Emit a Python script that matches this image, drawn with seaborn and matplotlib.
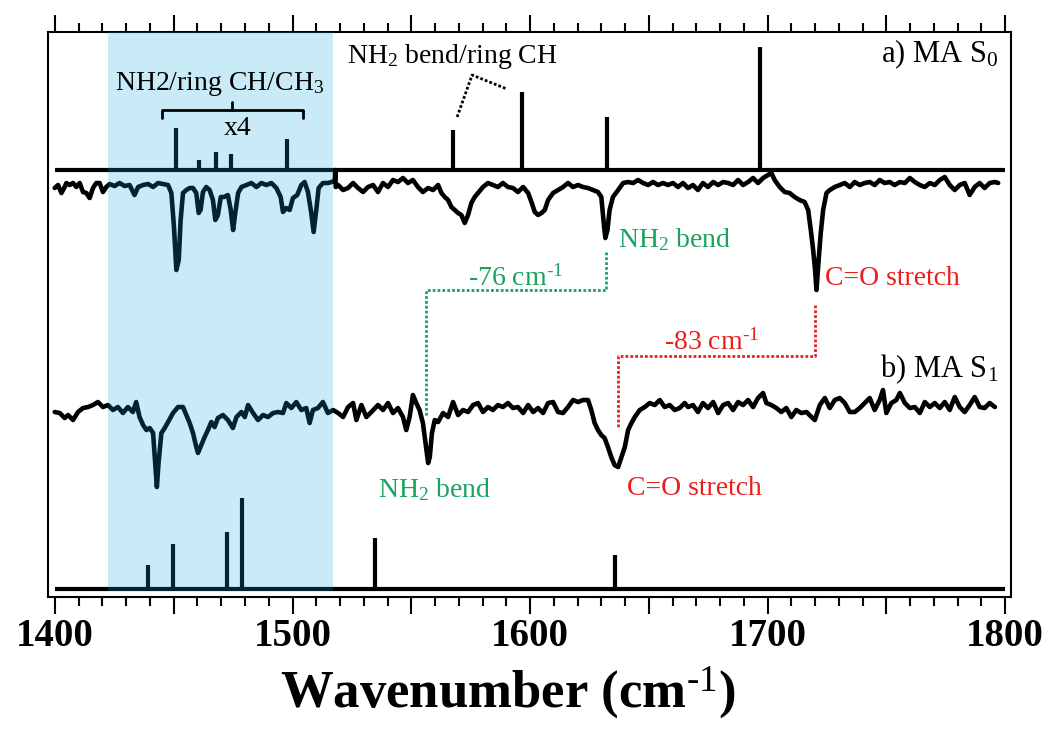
import matplotlib
matplotlib.use("Agg")
import matplotlib.pyplot as plt
import numpy as np
import pandas as pd
import seaborn as sns
from matplotlib.ticker import MultipleLocator, FuncFormatter

# ---------------- measured spectra (wavenumber / cm-1, signal / arb. units) ----------------
s0_wn = [1399.9, 1401.3, 1402.7, 1404.1, 1404.8, 1406.2, 1407.6, 1409.0, 1410.4, 1411.8,
         1413.2, 1414.6, 1416.0, 1417.4, 1418.8, 1420.2, 1421.6, 1423.0, 1425.1, 1427.2,
         1429.3, 1431.4, 1433.5, 1435.0, 1437.1, 1439.2, 1441.3, 1443.4, 1445.5, 1447.6,
         1449.0, 1450.1, 1451.1, 1452.1, 1452.9, 1453.9, 1455.3, 1456.7, 1458.1, 1459.5,
         1460.5, 1461.3, 1462.3, 1463.7, 1465.1, 1466.5, 1467.5, 1468.6, 1469.8, 1471.2,
         1472.8, 1474.0, 1475.0, 1475.9, 1477.1, 1478.5, 1480.6, 1482.7, 1484.8, 1486.9,
         1489.0, 1491.1, 1493.2, 1495.0, 1496.0, 1497.4, 1498.8, 1500.2, 1502.0, 1503.7,
         1505.1, 1506.5, 1507.9, 1508.9, 1510.0, 1511.0, 1512.8, 1515.0, 1516.4, 1517.6,
         1517.8, 1518.0, 1518.2, 1519.2, 1521.3, 1523.4, 1525.5, 1527.6, 1529.7, 1531.8,
         1533.9, 1536.0, 1538.1, 1540.2, 1542.3, 1544.4, 1546.5, 1548.6, 1550.7, 1552.8,
         1554.9, 1557.1, 1559.2, 1561.3, 1562.7, 1564.1, 1565.5, 1566.9, 1568.3, 1569.7,
         1571.1, 1572.5, 1573.9, 1575.3, 1576.7, 1578.1, 1580.2, 1582.3, 1584.4, 1586.5,
         1588.6, 1590.7, 1592.8, 1594.9, 1597.1, 1599.2, 1600.6, 1602.0, 1603.4, 1604.8,
         1606.2, 1607.6, 1609.7, 1611.8, 1613.9, 1616.0, 1618.1, 1620.2, 1622.3, 1624.4,
         1626.5, 1628.6, 1630.0, 1631.2, 1631.7, 1632.6, 1633.5, 1634.9, 1637.1, 1639.2,
         1641.3, 1643.4, 1645.5, 1647.6, 1649.7, 1651.8, 1653.9, 1656.0, 1658.1, 1660.2,
         1662.3, 1664.4, 1666.5, 1668.6, 1670.7, 1672.8, 1674.9, 1677.1, 1679.2, 1681.3,
         1683.4, 1685.5, 1687.6, 1689.7, 1691.8, 1693.9, 1696.0, 1698.1, 1700.2, 1701.6,
         1703.0, 1705.1, 1707.2, 1709.3, 1711.4, 1713.5, 1715.6, 1717.1, 1718.2, 1719.2,
         1719.9, 1720.6, 1721.5, 1722.4, 1723.4, 1724.8, 1726.2, 1728.3, 1730.4, 1732.5,
         1734.6, 1736.7, 1738.8, 1740.9, 1743.0, 1745.1, 1747.2, 1749.3, 1751.4, 1753.5,
         1755.7, 1757.8, 1759.9, 1762.0, 1764.1, 1766.2, 1768.3, 1770.4, 1772.5, 1774.6,
         1776.7, 1778.8, 1780.9, 1783.0, 1785.1, 1787.2, 1789.3, 1791.4, 1793.5, 1795.7,
         1797.1]
s0_sig = [-3, 0, -8, -2, 2, 0, 2, -2, 2, -7,
          -8, -13, -3, 2, 2, -7, -2, 1, -1, 2,
          -1, 0, -10, -2, 0, 1, -2, 2, 1, 0,
          -8, -42, -85, -75, -35, -8, -5, -3, -3, -8,
          -28, -25, -7, -2, -5, -15, -35, -30, -12, -12,
          -10, -25, -45, -28, -8, -2, 0, 2, -2, 2,
          0, 2, -3, -12, -27, -23, -25, -13, -10, 0,
          3, -7, -28, -47, -25, -3, 2, 2, 3, 4,
          5, 15, -2, 0, -5, -3, 2, -3, -7, -2,
          0, -7, 2, -2, 5, 3, 7, 2, 5, -2,
          -7, -3, -5, 0, -8, -12, -15, -22, -25, -28,
          -30, -38, -30, -18, -12, -8, -2, 2, 0, -2,
          2, -2, -3, -7, -2, -8, -17, -27, -30, -28,
          -25, -15, -8, -5, -2, 2, -2, 0, -2, -3,
          -5, -7, -12, -42, -53, -45, -25, -12, -5, 2,
          3, 2, 5, 2, 0, 3, 0, 2, 0, 2,
          -2, 2, -3, 0, -5, 2, -2, 3, 0, 3,
          2, 0, 5, 0, 3, 7, 2, 7, 10, 12,
          5, -2, -7, -8, -12, -15, -17, -25, -45, -65,
          -82, -105, -75, -48, -25, -8, -5, -2, 0, 2,
          -2, 3, 0, 2, 3, 0, 5, 2, 3, 0,
          3, 2, 7, 3, 0, -2, 2, 0, 5, 8,
          0, -5, 0, 2, -10, -2, 2, -3, 2, 3,
          2]

s1_wn = [1399.9, 1402.0, 1404.1, 1405.5, 1407.6, 1409.7, 1411.8, 1413.9, 1416.0, 1418.1,
         1420.2, 1422.3, 1424.4, 1426.5, 1428.6, 1430.7, 1432.8, 1434.2, 1435.6, 1437.1,
         1438.5, 1439.9, 1441.3, 1442.2, 1442.9, 1443.6, 1444.8, 1446.2, 1447.6, 1449.7,
         1451.8, 1453.9, 1455.3, 1456.7, 1458.1, 1459.5, 1460.2, 1461.6, 1463.0, 1464.4,
         1465.8, 1467.2, 1468.6, 1470.7, 1472.8, 1474.9, 1476.4, 1478.5, 1479.9, 1481.3,
         1483.4, 1485.5, 1487.6, 1489.7, 1491.8, 1493.9, 1496.0, 1497.4, 1499.5, 1501.6,
         1503.7, 1505.8, 1507.2, 1508.6, 1510.7, 1512.8, 1514.9, 1517.1, 1519.2, 1521.3,
         1523.4, 1525.5, 1526.9, 1529.0, 1531.1, 1533.2, 1536.0, 1538.1, 1540.2, 1542.3,
         1544.4, 1546.5, 1547.9, 1549.3, 1550.7, 1552.1, 1553.5, 1554.9, 1556.4, 1557.1,
         1557.8, 1558.7, 1559.9, 1561.3, 1563.4, 1565.5, 1567.6, 1569.7, 1571.8, 1573.9,
         1576.0, 1578.1, 1580.2, 1582.3, 1584.4, 1586.5, 1588.6, 1590.7, 1592.8, 1594.9,
         1597.1, 1599.2, 1601.3, 1603.4, 1605.5, 1607.6, 1609.7, 1611.8, 1613.9, 1616.0,
         1618.1, 1620.2, 1622.3, 1624.4, 1625.8, 1627.2, 1628.6, 1630.0, 1631.4, 1632.8,
         1634.2, 1635.6, 1637.1, 1638.5, 1639.9, 1641.3, 1642.7, 1644.1, 1646.2, 1648.3,
         1650.4, 1652.5, 1654.6, 1656.7, 1658.8, 1660.9, 1663.0, 1665.1, 1666.5, 1668.6,
         1670.7, 1672.8, 1674.9, 1677.1, 1679.2, 1681.3, 1683.4, 1685.5, 1687.6, 1689.7,
         1691.8, 1693.9, 1696.0, 1698.1, 1699.5, 1701.6, 1703.7, 1705.8, 1707.9, 1710.0,
         1712.1, 1714.2, 1716.4, 1718.5, 1719.9, 1722.0, 1724.1, 1726.2, 1728.3, 1730.4,
         1732.5, 1734.6, 1736.7, 1738.8, 1740.9, 1743.0, 1745.1, 1747.2, 1748.6, 1750.0,
         1752.1, 1754.2, 1755.7, 1757.8, 1759.9, 1762.0, 1764.1, 1766.2, 1768.3, 1770.4,
         1772.5, 1774.6, 1776.7, 1778.8, 1780.9, 1783.0, 1785.1, 1787.2, 1789.3, 1791.4,
         1793.5, 1795.7]
s1_sig = [-5, -6, -11, -8, -13, -5, -1, 0, 2, 5,
          0, 2, -3, 0, -6, 0, -5, 5, -10, -18,
          -23, -21, -26, -56, -80, -56, -26, -21, -15, -6,
          0, 0, -8, -16, -26, -40, -46, -38, -30, -23,
          -15, -20, -11, -8, -13, -21, -10, -5, -10, 2,
          -6, -13, -8, -10, -6, -5, -6, 4, -1, 5,
          -3, -1, -16, -3, -1, 5, -6, -3, -6, -10,
          0, 4, -13, 2, -10, -5, 2, -3, 4, -6,
          -1, -10, -23, -10, 12, 4, -3, -16, -43, -56,
          -50, -26, -13, -15, -6, -10, 5, -8, -3, -5,
          2, 4, -5, 0, -3, 2, 0, 4, -1, 0,
          -6, 2, -5, -1, -6, 4, 5, -5, -6, 0,
          7, 5, 7, 7, -3, -16, -23, -28, -31, -40,
          -50, -58, -60, -50, -40, -23, -16, -10, -3, 0,
          4, 2, 7, 0, 2, -3, -1, 4, 0, 2,
          -5, 4, -1, 5, -6, 2, 4, -3, 5, 2,
          7, 0, 9, 14, 4, 2, -1, -5, -1, -10,
          -3, -6, -5, -10, -13, 2, 9, -1, 7, 9,
          4, -5, -5, -1, 4, 9, -3, 7, 17, -6,
          4, 7, 14, 4, -1, 0, -6, 5, 0, 4,
          -1, 5, -3, 10, 0, -5, 2, 10, 0, -1,
          4, 0]

# ---------------- calculated stick spectra ----------------
s0_calc_wn = [1450.9, 1460.6, 1467.8, 1474.1, 1497.7, 1567.6, 1596.6, 1632.4, 1696.8]
s0_calc_int = [10.5, 2.5, 4.5, 4.0, 7.75, 40, 78, 53, 123]
s0_calc_scale = [4, 4, 4, 4, 4, 1, 1, 1, 1]          # weak modes shown x4
s1_calc_wn = [1425.7, 1439.2, 1449.7, 1456.0, 1472.4, 1478.7, 1526.7, 1534.7, 1635.8]
s1_calc_int = [2, 24, 45, 2, 57, 91, 2, 51, 34]

# band positions used for the shift annotations (S0, S1)
nh2_bend = [1632, 1556]
co_stretch = [1720, 1637]
scaled_region = [1422.3, 1517.0]
tick_values = [1400, 1500, 1600, 1700, 1800]

# vertical stacking offsets
S0_TRACE, S0_STICK = 412, 427
S1_TRACE, S1_STICK = 190, 8

GREEN = "#1aa35e"
RED = "#e8201c"

sns.set_style("ticks")
plt.rcParams["font.family"] = ["Liberation Serif", "DejaVu Serif"]
plt.rcParams["mathtext.fontset"] = "custom"
plt.rcParams["mathtext.rm"] = "Liberation Serif"
plt.rcParams["mathtext.it"] = "Liberation Serif:italic"
plt.rcParams["mathtext.bf"] = "Liberation Serif:bold"
for key in ("text.color", "axes.labelcolor", "xtick.color", "ytick.color", "axes.edgecolor"):
    plt.rcParams[key] = "black"

fig = plt.figure(figsize=(10.52, 7.34), dpi=100)
ax = fig.add_axes([0.0456, 0.1866, 0.9159, 0.7698])

df0 = pd.DataFrame({"wn": s0_wn, "sig": np.array(s0_sig) + S0_TRACE})
df1 = pd.DataFrame({"wn": s1_wn, "sig": np.array(s1_sig) + S1_TRACE})
sns.lineplot(data=df0, x="wn", y="sig", ax=ax, color="black", lw=3.3,
             estimator=None, sort=False, zorder=3)
sns.lineplot(data=df1, x="wn", y="sig", ax=ax, color="black", lw=3.3,
             estimator=None, sort=False, zorder=3)

# stick spectra
s0_h = np.array(s0_calc_int) * np.array(s0_calc_scale)
ax.hlines(S0_STICK, 1400, 1800, color="black", lw=3, zorder=3)
ax.vlines(s0_calc_wn, S0_STICK, S0_STICK + s0_h, color="black", lw=3, zorder=3)
ax.hlines(S1_STICK, 1400, 1800, color="black", lw=3, zorder=3)
ax.vlines(s1_calc_wn, S1_STICK, S1_STICK + np.array(s1_calc_int), color="black", lw=3, zorder=3)

# shaded low-frequency region
ax.set_xlim(1397.05, 1802.7)
ax.set_ylim(0, 565)
ax.axvspan(scaled_region[0], scaled_region[1], ymin=6 / 565, ymax=1,
           color="#05a8df", alpha=0.22, lw=0, zorder=5)

# shift annotations
dot = (0, (1, 0.75))
a, b = nh2_bend
ax.plot([a, a, b, b], [345, 307, 307, 181], color=GREEN, lw=2, ls=dot, zorder=4)
ax.text((a + b) / 2, 311, f"{b - a} cm$^{{\\text{{-1}}}}$", color=GREEN, fontsize=20,
        ha="center", va="baseline", zorder=6)
a, b = co_stretch
ax.plot([a, a, b, b], [292, 241, 241, 170], color=RED, lw=2, ls=dot, zorder=4)
ax.text((a + b) / 2 - 2, 247, f"{b - a} cm$^{{\\text{{-1}}}}$", color=RED, fontsize=20,
        ha="center", va="baseline", zorder=6)

ax.text(nh2_bend[0] + 5, 350, "NH$_2$ bend", color=GREEN, fontsize=20, va="baseline", zorder=6)
ax.text(co_stretch[0] + 4, 312, "C=O stretch", color=RED, fontsize=20, va="baseline", zorder=6)
ax.text(1536, 100, "NH$_2$ bend", color=GREEN, fontsize=20, va="baseline", zorder=6)
ax.text(1641, 102, "C=O stretch", color=RED, fontsize=20, va="baseline", zorder=6)

ax.text(1797, 535, "a) MA S$_0$", fontsize=22, ha="right", va="baseline", zorder=6)
ax.text(1797, 220, "b) MA S$_1$", fontsize=22, ha="right", va="baseline", zorder=6)
ax.text(1523, 534, "NH$_2$ bend/ring CH", fontsize=20, va="baseline", zorder=6)
ax.text(1425.3, 507, "NH2/ring CH/CH$_3$", fontsize=20, va="baseline", zorder=6)
ax.text(1477, 462, "x4", fontsize=20, ha="center", va="baseline", zorder=6)

# bracket over the scaled sticks
ax.plot([1445.0, 1445.0, 1504.4, 1504.4], [479, 487, 487, 479], color="black", lw=2, zorder=6)
ax.plot([1474.5, 1474.5], [487, 495], color="black", lw=2, zorder=6)
# pointer to the two ring modes
ax.plot([1569.3, 1575.6, 1590.3], [480, 522, 508], color="black", lw=2, ls=dot, zorder=6)

# axes styling
for s in ax.spines.values():
    s.set_linewidth(1.5)
    s.set_color("black")
ax.set_yticks([])
ax.xaxis.set_major_locator(MultipleLocator(50))
ax.xaxis.set_minor_locator(MultipleLocator(10))
ax.xaxis.set_major_formatter(FuncFormatter(lambda v, p: f"{int(round(v))}" if int(round(v)) in tick_values else ""))
ax.tick_params(axis="x", which="major", direction="out", length=12, width=1.5,
               top=True, bottom=True, labeltop=False, pad=3, labelsize=28, colors="black")
ax.tick_params(axis="x", which="minor", direction="out", length=6.5, width=1.5,
               top=True, bottom=True, colors="black")
for lab in ax.get_xticklabels():
    lab.set_fontweight("bold")
ax.set_ylabel("")
ax.set_xlabel(r"Wavenumber (cm$^{\mathbf{\text{-1}}}$)", fontsize=38, fontweight="bold",
              color="black")
ax.xaxis.set_label_coords(0.477, -0.118)

fig.savefig("out.png", dpi=100)
